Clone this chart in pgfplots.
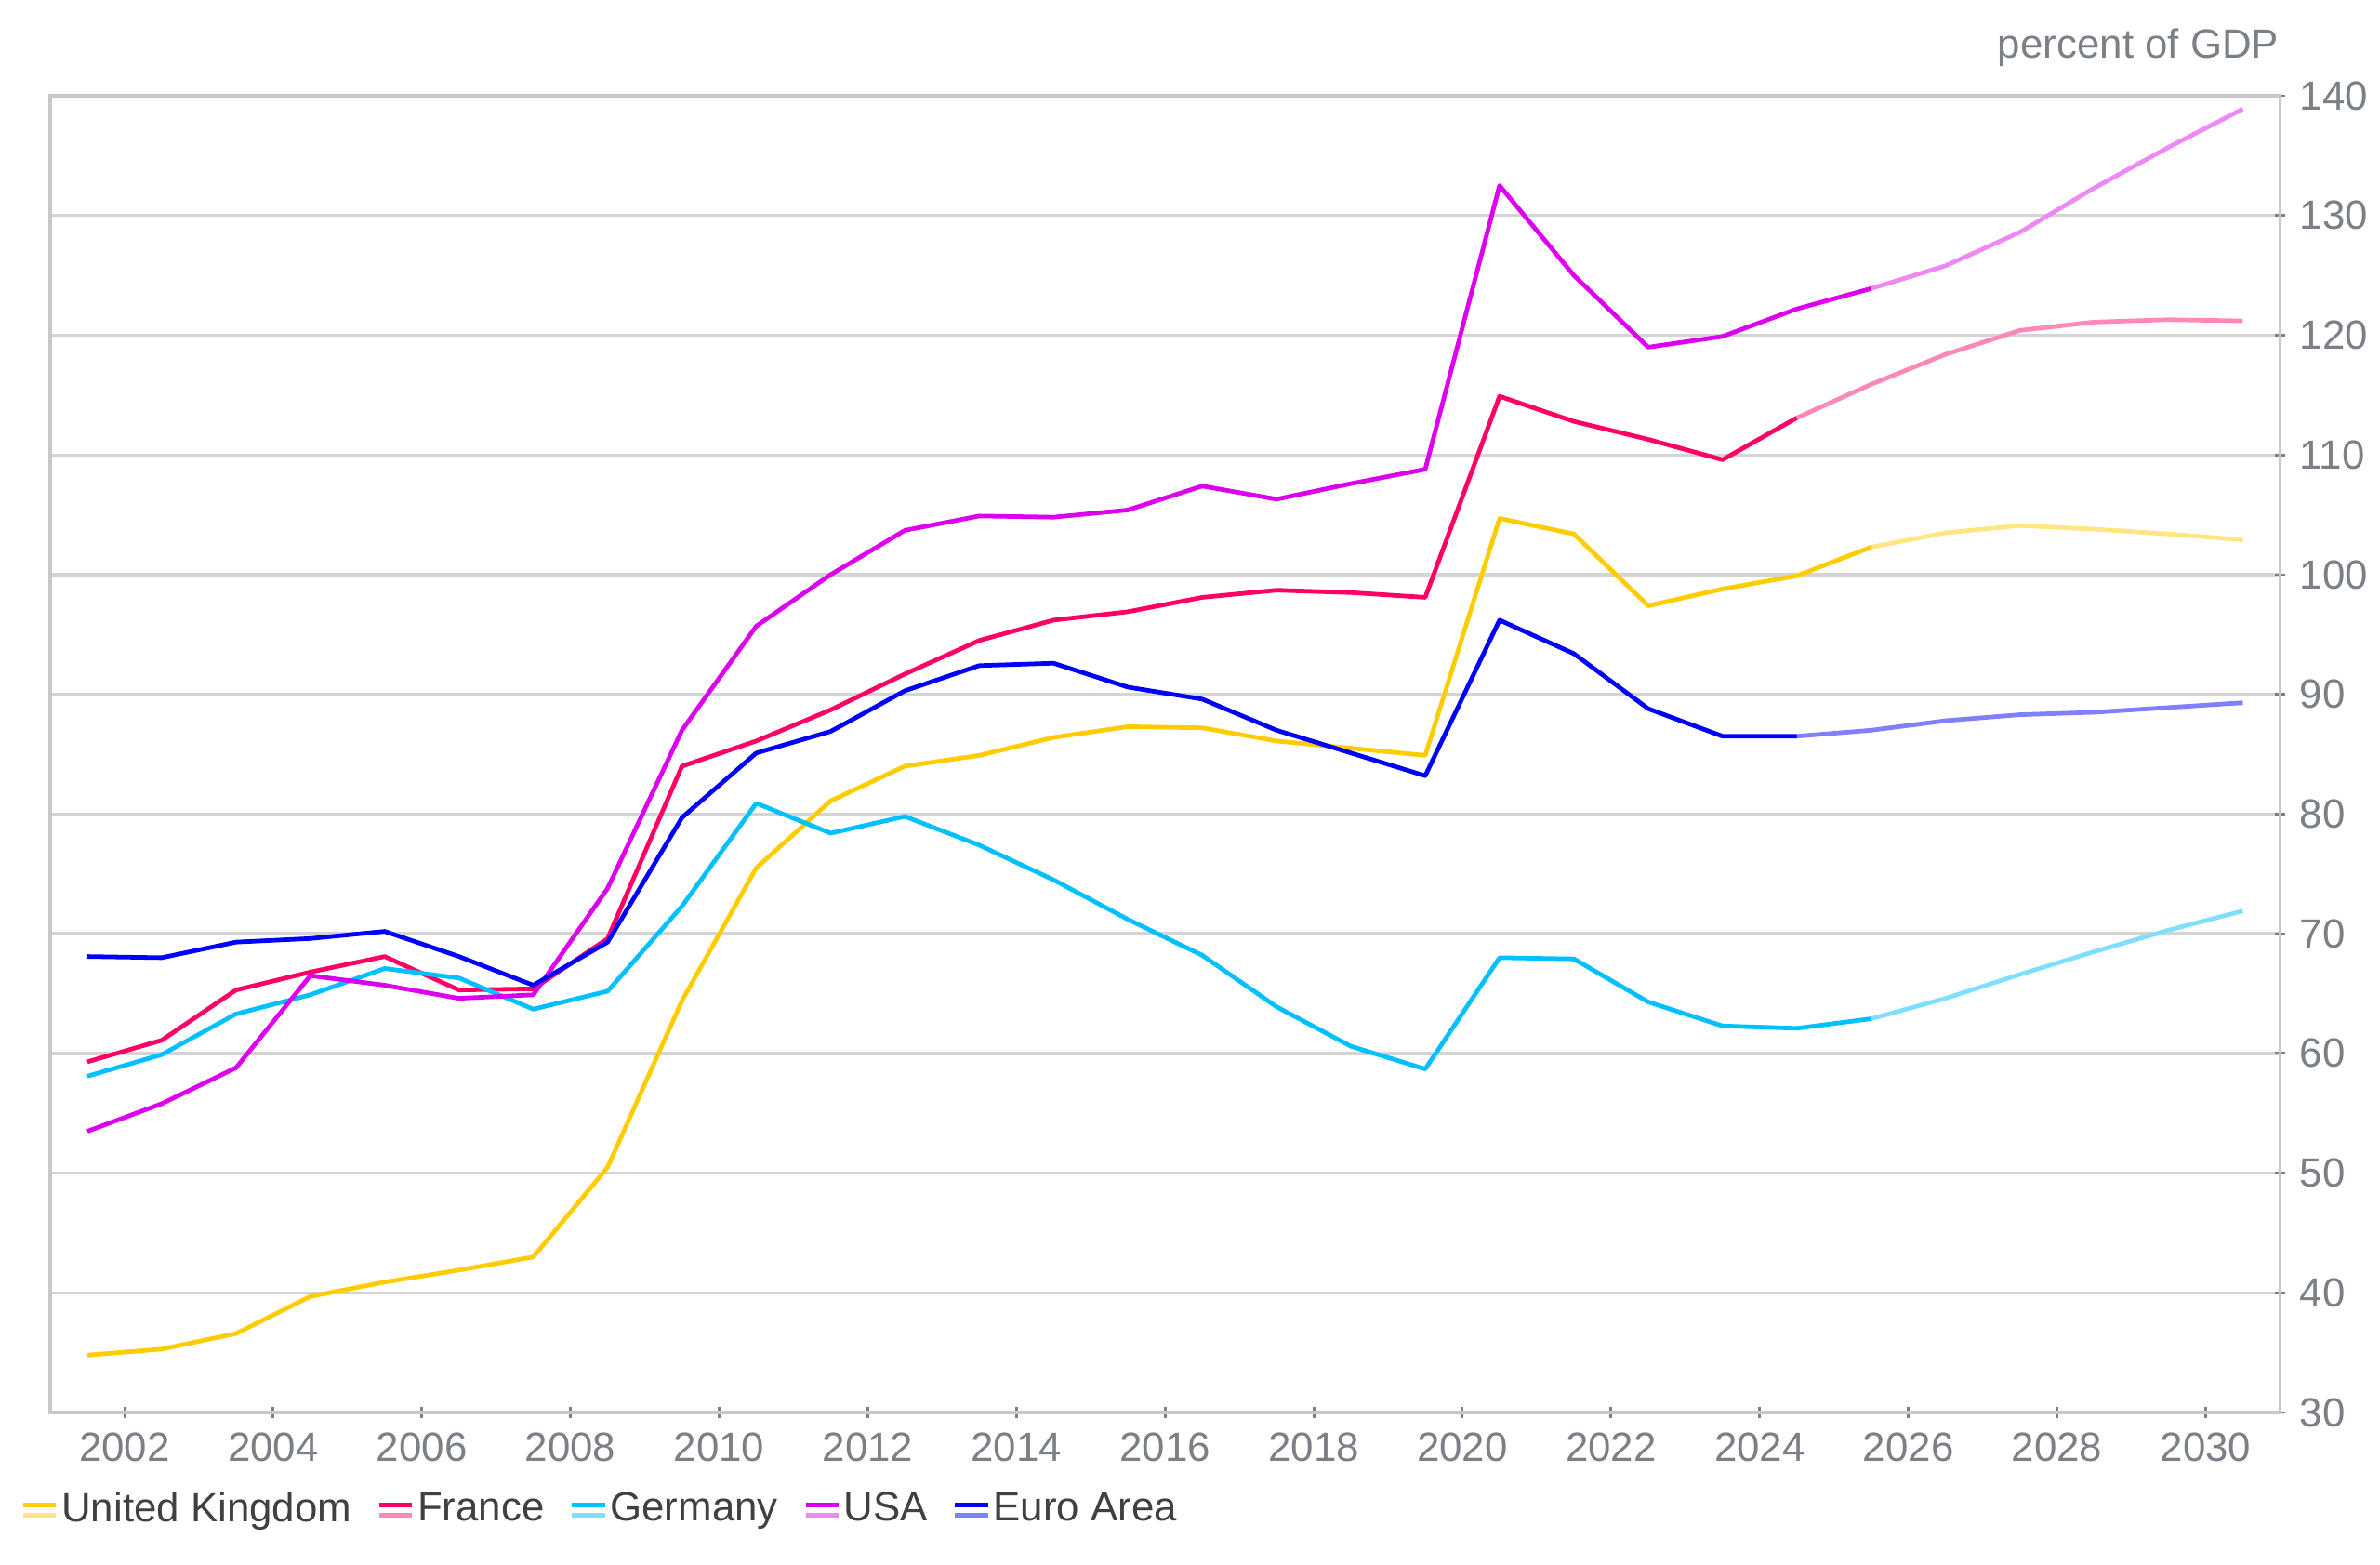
\documentclass[border=0pt]{standalone}
\usepackage{pgfplots}
\pgfplotsset{compat=1.18}
\usepackage{fontspec}
\setmainfont{Liberation Sans}

\definecolor{ukc}{HTML}{FFCC00}
\definecolor{uklc}{HTML}{FFE680}
\definecolor{frc}{HTML}{FF0066}
\definecolor{frlc}{HTML}{FF88B8}
\definecolor{dec}{HTML}{00C0FF}
\definecolor{delc}{HTML}{80DFFF}
\definecolor{usc}{HTML}{DD00EE}
\definecolor{uslc}{HTML}{EE88F6}
\definecolor{euc}{HTML}{0000FF}
\definecolor{eulc}{HTML}{8080FF}
\definecolor{gridc}{HTML}{D4D4D4}
\definecolor{axc}{HTML}{C8C8C8}
\definecolor{tickc}{HTML}{7A8085}
\definecolor{legc}{HTML}{404040}

% legend icon: dark line over light line
\newcommand{\legicon}[2]{%
  \draw[#1, line width=0.9pt] (0cm,0.033cm) -- (0.22cm,0.033cm);
  \draw[#2, line width=0.9pt] (0cm,-0.033cm) -- (0.22cm,-0.033cm);}

\begin{document}
\begin{tikzpicture}
\fontsize{7.8}{9.4}\selectfont
\path[use as bounding box] (-0.3375cm,-1.019cm) rectangle (15.6625cm,9.494cm);
\begin{axis}[
  at={(0,0)}, anchor=south west,
  scale only axis,
  width=14.99cm, height=8.85cm,
  xmin=2001, xmax=2031,
  ymin=30, ymax=140,
  xtick={2002,2004,...,2030},
  ytick={30,40,...,140},
  xtick pos=bottom, ytick pos=right,
  yticklabel pos=right,
  tick align=center,
  major tick length=0.07cm,
  ymajorgrids,
  grid style={gridc, line width=0.6pt},
  axis line style={axc, line width=0.6pt},
  tick style={tickc, line width=0.5pt},
  /pgf/number format/assume math mode=true,
  xticklabel style={/pgf/number format/1000 sep={}},
  ticklabel style={font=\fontsize{7.8}{9.4}\selectfont, text=tickc},
  every axis plot/.append style={line width=0.85pt, line join=round},
  clip=false,
  legend columns=-1,
  legend style={at={(-0.0135,-0.074)}, anchor=west, draw=none, fill=none,
    inner sep=0pt, font=\fontsize{7.8}{9.4}\selectfont, text=legc,
    /tikz/every odd column/.append style={column sep=-0.05cm},
    /tikz/every even column/.append style={column sep=0.1cm}},
]
% United Kingdom
\addplot[ukc, legend image code/.code={\legicon{ukc}{uklc}}] coordinates {
 (2001.5,34.8) (2002.5,35.3) (2003.5,36.6) (2004.5,39.7) (2005.5,40.9)
 (2006.5,41.9) (2007.5,43.0) (2008.5,50.5) (2009.5,64.4) (2010.5,75.5)
 (2011.5,81.1) (2012.5,84.0) (2013.5,84.9) (2014.5,86.4) (2015.5,87.3)
 (2016.5,87.2) (2017.5,86.1) (2018.5,85.5) (2019.5,84.9) (2020.5,104.7)
 (2021.5,103.4) (2022.5,97.4) (2023.5,98.8) (2024.5,99.9) (2025.5,102.3)
};
\addlegendentry{United Kingdom}
\addplot[uklc, forget plot] coordinates {
 (2025.5,102.3) (2026.5,103.5) (2027.5,104.1) (2028.5,103.8) (2029.5,103.4) (2030.5,102.9)
};
% France
\addplot[frc, legend image code/.code={\legicon{frc}{frlc}}] coordinates {
 (2001.5,59.3) (2002.5,61.1) (2003.5,65.3) (2004.5,66.8) (2005.5,68.1)
 (2006.5,65.3) (2007.5,65.4) (2008.5,69.6) (2009.5,84.0) (2010.5,86.1)
 (2011.5,88.7) (2012.5,91.7) (2013.5,94.5) (2014.5,96.2) (2015.5,96.9)
 (2016.5,98.1) (2017.5,98.7) (2018.5,98.5) (2019.5,98.1) (2020.5,114.9)
 (2021.5,112.8) (2022.5,111.3) (2023.5,109.6) (2024.5,113.1)
};
\addlegendentry{France}
\addplot[frlc, forget plot] coordinates {
 (2024.5,113.1) (2025.5,115.9) (2026.5,118.4) (2027.5,120.4) (2028.5,121.1) (2029.5,121.3) (2030.5,121.2)
};
% Germany
\addplot[dec, legend image code/.code={\legicon{dec}{delc}}] coordinates {
 (2001.5,58.1) (2002.5,59.9) (2003.5,63.3) (2004.5,64.9) (2005.5,67.1)
 (2006.5,66.3) (2007.5,63.7) (2008.5,65.2) (2009.5,72.3) (2010.5,80.9)
 (2011.5,78.4) (2012.5,79.8) (2013.5,77.4) (2014.5,74.5) (2015.5,71.2)
 (2016.5,68.2) (2017.5,63.9) (2018.5,60.6) (2019.5,58.7) (2020.5,68.0)
 (2021.5,67.9) (2022.5,64.3) (2023.5,62.3) (2024.5,62.1) (2025.5,62.9)
};
\addlegendentry{Germany}
\addplot[delc, forget plot] coordinates {
 (2025.5,62.9) (2026.5,64.6) (2027.5,66.6) (2028.5,68.5) (2029.5,70.3) (2030.5,71.9)
};
% USA
\addplot[usc, legend image code/.code={\legicon{usc}{uslc}}] coordinates {
 (2001.5,53.5) (2002.5,55.8) (2003.5,58.8) (2004.5,66.5) (2005.5,65.7)
 (2006.5,64.6) (2007.5,64.9) (2008.5,73.8) (2009.5,87.0) (2010.5,95.7)
 (2011.5,100.0) (2012.5,103.7) (2013.5,104.9) (2014.5,104.8) (2015.5,105.4)
 (2016.5,107.4) (2017.5,106.3) (2018.5,107.6) (2019.5,108.8) (2020.5,132.5)
 (2021.5,125.0) (2022.5,119.0) (2023.5,119.9) (2024.5,122.2) (2025.5,123.9)
};
\addlegendentry{USA}
\addplot[uslc, forget plot] coordinates {
 (2025.5,123.9) (2026.5,125.8) (2027.5,128.6) (2028.5,132.3) (2029.5,135.7) (2030.5,138.9)
};
% Euro Area
\addplot[euc, legend image code/.code={\legicon{euc}{eulc}}] coordinates {
 (2001.5,68.1) (2002.5,68.0) (2003.5,69.3) (2004.5,69.6) (2005.5,70.2)
 (2006.5,68.1) (2007.5,65.7) (2008.5,69.3) (2009.5,79.7) (2010.5,85.1)
 (2011.5,86.9) (2012.5,90.3) (2013.5,92.4) (2014.5,92.6) (2015.5,90.6)
 (2016.5,89.6) (2017.5,87.0) (2018.5,85.1) (2019.5,83.2) (2020.5,96.2)
 (2021.5,93.4) (2022.5,88.8) (2023.5,86.5) (2024.5,86.5)
};
\addlegendentry{Euro Area}
\addplot[eulc, forget plot] coordinates {
 (2024.5,86.5) (2025.5,87.0) (2026.5,87.8) (2027.5,88.3) (2028.5,88.5) (2029.5,88.9) (2030.5,89.3)
};
\node[anchor=base east, text=tickc, inner sep=0pt] at ([yshift=0.256cm]rel axis cs:1,1) {percent of GDP};
\end{axis}
\end{tikzpicture}
\end{document}
